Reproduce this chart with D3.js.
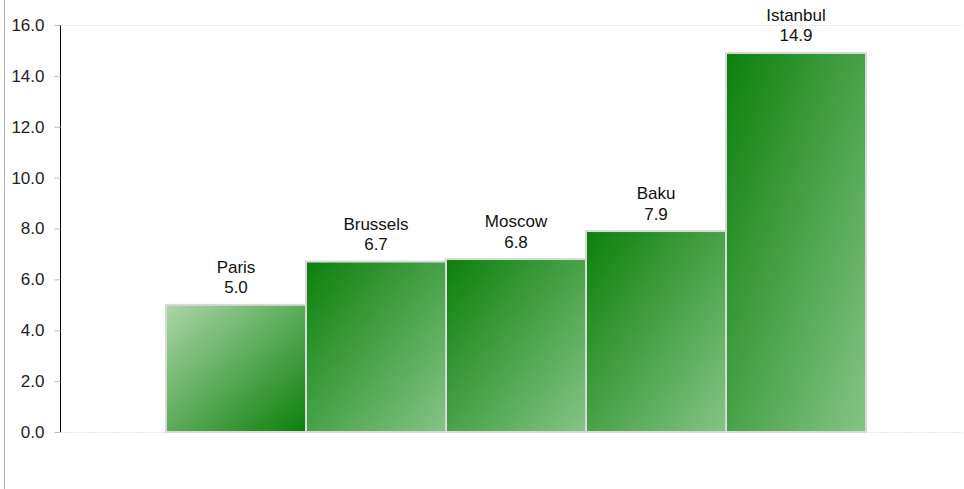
<!DOCTYPE html>
<html>
<head>
<meta charset="utf-8">
<script src="https://cdn.jsdelivr.net/npm/d3@7"></script>
<style>
  html, body { margin: 0; padding: 0; background: #fff; }
  #chart { width: 964px; height: 489px; }
  text { font-family: "Liberation Sans", Arial, sans-serif; }
</style>
</head>
<body>
<div id="chart"></div>
<script>
// chart data
const cities = ["Paris", "Brussels", "Moscow", "Baku", "Istanbul"];
const values = [5.0, 6.7, 6.8, 7.9, 14.9];
const yTicks = [0, 2, 4, 6, 8, 10, 12, 14, 16];

document.addEventListener("DOMContentLoaded", () => {
  const width = 964;
  const height = 489;

  const svg = d3.select("#chart").append("svg").attr("width", width).attr("height", height);

  // gradients: first bar light -> dark, the rest dark -> light
  const defs = svg.append("defs");
  const addGrad = (id, from, to) => {
    const g = defs.append("linearGradient").attr("id", id)
      .attr("x1", 0).attr("y1", 0).attr("x2", 1).attr("y2", 1);
    g.append("stop").attr("offset", "0%").attr("stop-color", from);
    g.append("stop").attr("offset", "100%").attr("stop-color", to);
  };
  addGrad("gLight", "#acd6a8", "#0b800b");
  addGrad("gDark", "#0b800b", "#86c486");

  // outer left border line
  svg.append("line").attr("x1", 4.5).attr("x2", 4.5).attr("y1", 0).attr("y2", height)
    .attr("stroke", "#b0b0b0").attr("stroke-width", 1);

  const x = d3.scaleBand().domain(cities).range([166, 866]).padding(0);
  const y = d3.scaleLinear().domain([0, 16]).range([432, 25]);

  // faint gridlines at top and bottom
  svg.append("g").selectAll("line").data([0, 16]).join("line")
    .attr("x1", 61).attr("x2", 963)
    .attr("y1", d => Math.round(y(d)) + 0.5).attr("y2", d => Math.round(y(d)) + 0.5)
    .attr("stroke", "#e6e6e6").attr("stroke-dasharray", "2,1");

  // y axis
  const yAxis = svg.append("g").attr("transform", "translate(60.5,0)")
    .call(d3.axisLeft(y).tickValues(yTicks).tickFormat(d3.format(".1f")).tickSize(6).tickPadding(10));
  yAxis.select(".domain").attr("stroke", "#000").attr("d", `M0,${y(16)}V${y(0)}`);
  yAxis.selectAll(".tick line").attr("stroke", "#bbb");
  yAxis.selectAll(".tick text").attr("font-size", 17).attr("fill", "#222")
    .attr("font-family", "'Liberation Sans', Arial, sans-serif");

  // bars
  svg.append("g").selectAll("rect").data(values).join("rect")
    .attr("x", (d, i) => x(cities[i]))
    .attr("y", d => y(d))
    .attr("width", x.bandwidth())
    .attr("height", d => y(0) - y(d))
    .attr("fill", (d, i) => i === 0 ? "url(#gLight)" : "url(#gDark)")
    .attr("stroke", "#d9d9d9")
    .attr("stroke-width", 2);

  // labels above bars
  const labels = svg.append("g").selectAll("text").data(values).join("text")
    .attr("text-anchor", "middle")
    .attr("font-size", 17)
    .attr("fill", "#111")
    .attr("x", (d, i) => x(cities[i]) + x.bandwidth() / 2)
    .attr("y", d => y(d) - 32);
  labels.append("tspan").text((d, i) => cities[i]);
  labels.append("tspan")
    .attr("x", (d, i) => x(cities[i]) + x.bandwidth() / 2)
    .attr("dy", 20.5)
    .text(d => d.toFixed(1));
});
</script>
</body>
</html>
